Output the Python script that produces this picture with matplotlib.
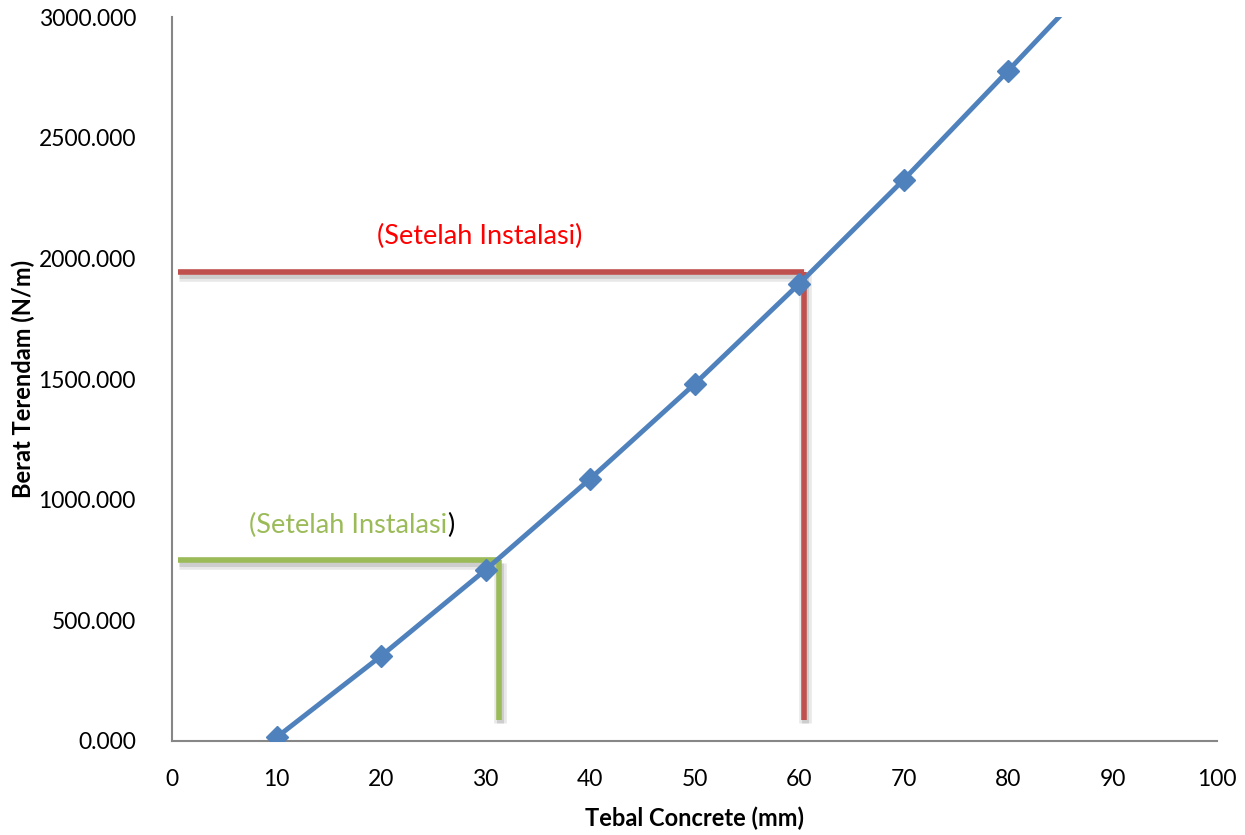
import matplotlib.pyplot as plt
import matplotlib.patheffects as pe

plt.rcParams['font.family'] = ['Lato', 'DejaVu Sans']

# Concrete thickness (mm) vs submerged weight (N/m)
tebal = [10, 20, 30, 40, 50, 60, 70, 80, 90]
berat = [15, 352, 709, 1086, 1479, 1894, 2325, 2777, 3235]

# read-off guide lines (x, y) for each installation condition
merah_x, merah_y = 60.5, 1945
hijau_x, hijau_y = 31.3, 750
garis_bawah = 88
garis_kiri = 0.6

biru = '#4F81BD'
merah = '#C0504D'
hijau = '#9BBB59'

fig = plt.figure(figsize=(12.45, 8.35), dpi=100)
ax = fig.add_axes([0.1382, 0.1126, 0.8393, 0.867])

# soft drop shadow under the guide lines
bayangan = [pe.SimpleLineShadow(offset=(0.5, -2.5), shadow_color='#808080', alpha=0.18, linewidth=9),
            pe.SimpleLineShadow(offset=(0.5, -2.5), shadow_color='#808080', alpha=0.25, linewidth=5),
            pe.Normal()]

for x0, y0, warna in [(merah_x, merah_y, merah), (hijau_x, hijau_y, hijau)]:
    ax.plot([garis_kiri, x0], [y0, y0], color=warna, lw=4, path_effects=bayangan,
            solid_capstyle='butt', zorder=2)
    ax.plot([x0, x0], [y0, garis_bawah], color=warna, lw=4, path_effects=bayangan,
            solid_capstyle='butt', zorder=2)

ax.plot(tebal, berat, color=biru, lw=3.5, marker='D', markersize=11, zorder=3, clip_on=True)

ax.text(29.4, 2090, '(Setelah Instalasi)', color='red', fontsize=19.5, ha='center', va='center')
t = ax.text(7.4, 895, '(Setelah Instalasi', color=hijau, fontsize=19.5, ha='left', va='center')
ax.annotate(')', xycoords=t, xy=(1, 0.5), va='center', ha='left', fontsize=19.5, color='black')

ax.set_xlim(0, 100)
ax.set_ylim(0, 3000)
ax.set_xticks(range(0, 101, 10))
ax.set_yticks(range(0, 3001, 500))
ax.set_yticklabels([f'{v:.3f}' for v in range(0, 3001, 500)])
ax.tick_params(length=0, labelsize=16.5, pad=20)
ax.tick_params(axis='y', pad=26)

for s in ['top', 'right']:
    ax.spines[s].set_visible(False)
for s in ['left', 'bottom']:
    ax.spines[s].set_color('#868686')
    ax.spines[s].set_linewidth(1.5)

ax.set_xlabel('Tebal Concrete (mm)', fontsize=17, fontweight='bold', labelpad=12)
ax.set_ylabel('Berat Terendam (N/m)', fontsize=17, fontweight='bold')
ax.yaxis.set_label_coords(-0.131, 0.5)

plt.savefig('out.png', dpi=100)
